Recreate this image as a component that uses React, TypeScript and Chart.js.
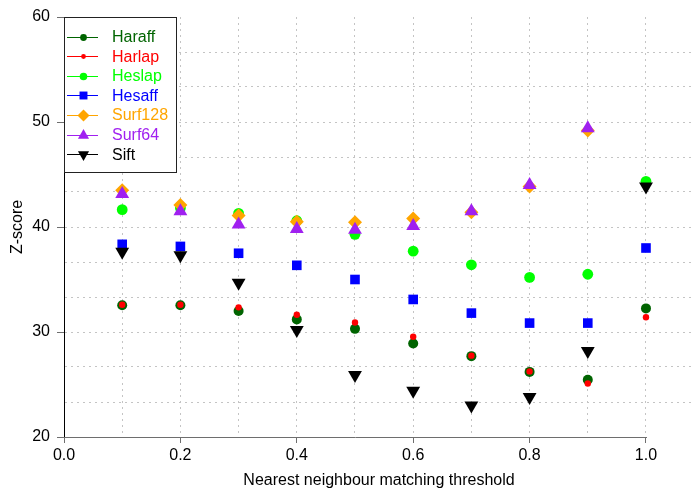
import React, { useEffect, useRef } from "react";
import { Chart, registerables } from "chart.js";

Chart.register(...registerables);

// ---- data ----
const thresholds = [0.1, 0.2, 0.3, 0.4, 0.5, 0.6, 0.7, 0.8, 0.9, 1.0];
const haraff = [32.55, 32.55, 32.0, 31.2, 30.3, 28.9, 27.7, 26.2, 25.45, 32.25];
const harlap = [32.6, 32.6, 32.35, 31.65, 30.9, 29.55, 27.75, 26.25, 25.1, 31.4];
const heslap = [41.65, 41.8, 41.3, 40.6, 39.3, 37.7, 36.4, 35.2, 35.5, 44.35];
const hesaff = [38.35, 38.15, 37.5, 36.35, 35.0, 33.1, 31.8, 30.85, 30.85, 38.0];
const surf128 = [43.5, 42.1, 41.1, 40.5, 40.45, 40.8, 41.4, 43.85, 49.2, null];
const surf64 = [43.15, 41.5, 40.25, 39.8, 39.75, 40.1, 41.5, 44.0, 49.4, null];
const sift = [37.65, 37.3, 34.7, 30.2, 25.9, 24.4, 23.0, 23.8, 28.2, 43.85];

const seriesNames = ["Haraff", "Harlap", "Heslap", "Hesaff", "Surf128", "Surf64", "Sift"];
const seriesValues = [haraff, harlap, heslap, hesaff, surf128, surf64, sift];

const xGridValues = [0, 0.1, 0.2, 0.3, 0.4, 0.5, 0.6, 0.7, 0.8, 0.9, 1.0];
const xTickLabels = [0, 0.2, 0.4, 0.6, 0.8, 1.0];
const yTickLabels = [20, 30, 40, 50, 60];

const xTitle = "Nearest neighbour matching threshold";
const yTitle = "Z-score";

// ---- styles ----
const FONT = "'Liberation Sans', Arial, Helvetica, sans-serif";
const seriesStyles = [
  { color: "#006400", style: "circle", r: 5, lr: 3.4, rot: 0 },
  { color: "#ff0000", style: "circle", r: 3.2, lr: 2.4, rot: 0 },
  { color: "#00ff00", style: "circle", r: 5.4, lr: 3.8, rot: 0 },
  { color: "#0000ff", style: "rect", r: 6.8, lr: 5.6, rot: 0 },
  { color: "#ffa500", style: "rectRot", r: 7, lr: 6, rot: 0 },
  { color: "#a020f0", style: "triangle", r: 8, lr: 6.4, rot: 0 },
  { color: "#000000", style: "triangle", r: 8, lr: 6.4, rot: 180 },
];

function drawMarker(ctx: CanvasRenderingContext2D, style: string, x: number, y: number, r: number, rot: number, color: string) {
  ctx.save();
  ctx.fillStyle = color;
  ctx.beginPath();
  if (style === "circle") {
    ctx.arc(x, y, r, 0, Math.PI * 2);
  } else if (style === "rect") {
    const s = r * Math.SQRT1_2;
    ctx.rect(x - s, y - s, 2 * s, 2 * s);
  } else if (style === "rectRot") {
    ctx.moveTo(x - r, y);
    ctx.lineTo(x, y - r);
    ctx.lineTo(x + r, y);
    ctx.lineTo(x, y + r);
    ctx.closePath();
  } else if (style === "triangle") {
    let rad = (rot * Math.PI) / 180;
    ctx.moveTo(x + Math.sin(rad) * r, y - Math.cos(rad) * r);
    rad += (2 * Math.PI) / 3;
    ctx.lineTo(x + Math.sin(rad) * r, y - Math.cos(rad) * r);
    rad += (2 * Math.PI) / 3;
    ctx.lineTo(x + Math.sin(rad) * r, y - Math.cos(rad) * r);
    ctx.closePath();
  }
  ctx.fill();
  ctx.restore();
}

const overlayPlugin = {
  id: "overlay",
  beforeDatasetsDraw(chart: any) {
    const ctx: CanvasRenderingContext2D = chart.ctx;
    const xs = chart.scales.x;
    const ys = chart.scales.y;
    const y0 = Math.round(ys.getPixelForValue(yTickLabels[0])) + 0.5;
    ctx.save();
    ctx.strokeStyle = "#6e6e6e";
    ctx.lineWidth = 1;
    ctx.beginPath();
    ctx.moveTo(xs.getPixelForValue(xTickLabels[0]), y0);
    ctx.lineTo(Math.round(xs.getPixelForValue(xTickLabels[xTickLabels.length - 1])) + 1, y0);
    ctx.stroke();
    ctx.restore();
  },
  afterDraw(chart: any) {
    const ctx: CanvasRenderingContext2D = chart.ctx;
    const left = chart.chartArea.left;
    const top = chart.chartArea.top;
    ctx.save();
    ctx.fillStyle = "#ffffff";
    ctx.fillRect(left + 0.5, top + 0.5, 112, 155);
    ctx.strokeStyle = "#222";
    ctx.lineWidth = 1;
    ctx.strokeRect(left + 0.5, top + 0.5, 112, 155);
    ctx.font = `16px ${FONT}`;
    ctx.textBaseline = "middle";
    ctx.textAlign = "left";
    seriesNames.forEach((name, i) => {
      const st = seriesStyles[i];
      const cy = top + 19.5 + i * 19.6;
      const ly = Math.round(cy) + 0.5;
      ctx.strokeStyle = st.color;
      ctx.lineWidth = 1;
      ctx.beginPath();
      ctx.moveTo(left + 3, ly);
      ctx.lineTo(left + 34, ly);
      ctx.stroke();
      drawMarker(ctx, st.style, left + 19.5, ly, st.lr, st.rot, st.color);
      ctx.fillStyle = st.color;
      ctx.fillText(name, left + 48, cy + 1);
    });
    ctx.restore();
  },
};

export default function App() {
  const canvasRef = useRef<HTMLCanvasElement | null>(null);

  useEffect(() => {
    if (!canvasRef.current) return;
    const datasets = seriesNames.map((name, i) => {
      const st = seriesStyles[i];
      return {
        label: name,
        data: thresholds
          .map((x, j) => ({ x, y: seriesValues[i][j] }))
          .filter((p) => p.y !== null && p.y !== undefined),
        showLine: false,
        pointStyle: st.style,
        pointRadius: st.r,
        pointHoverRadius: st.r,
        pointRotation: st.rot,
        pointBackgroundColor: st.color,
        pointBorderColor: st.color,
        pointBorderWidth: 0,
        backgroundColor: st.color,
        borderColor: st.color,
        order: seriesNames.length - 1 - i,
      };
    });

    const gridColor = "#c4c4c4";

    const chart = new Chart(canvasRef.current, {
      type: "scatter",
      data: { datasets: datasets as any },
      options: {
        animation: false,
        responsive: false,
        devicePixelRatio: 1,
        layout: { autoPadding: false, padding: { top: 17, right: 0, left: 0, bottom: 0 } },
        plugins: { legend: { display: false }, tooltip: { enabled: false } },
        scales: {
          x: {
            type: "linear",
            min: 0,
            max: 1.0825,
            afterBuildTicks: (s: any) => {
              s.ticks = xGridValues.map((v) => ({ value: v }));
            },
            afterFit: (s: any) => {
              s.height = 53;
              s.paddingLeft = 0;
              s.paddingRight = 0;
            },
            ticks: {
              autoSkip: false,
              maxRotation: 0,
              padding: 3,
              color: "#000",
              font: { family: FONT, size: 16 },
              callback: (value: any) => {
                const v = Number(value);
                return xTickLabels.some((t) => Math.abs(t - v) < 1e-6) ? v.toFixed(1) : "";
              },
            },
            grid: {
              drawTicks: true,
              tickLength: 6,
              lineWidth: 1,
              color: (c: any) => (c.tick && Math.abs(c.tick.value) < 1e-6 ? "rgba(0,0,0,0)" : gridColor),
              tickColor: (c: any) =>
                c.tick && xTickLabels.some((t) => Math.abs(t - c.tick.value) < 1e-6) ? "#6e6e6e" : "rgba(0,0,0,0)",
            },
            border: { display: false, dash: [2, 4] },
            title: {
              display: true,
              text: xTitle,
              color: "#000",
              font: { family: FONT, size: 16 },
              padding: { top: 0, bottom: 0 },
            },
          },
          y: {
            type: "linear",
            min: yTickLabels[0],
            max: yTickLabels[yTickLabels.length - 1],
            afterBuildTicks: (s: any) => {
              const vals: number[] = [];
              for (let i = 0; i < yTickLabels.length - 1; i++) {
                const a = yTickLabels[i];
                const b = yTickLabels[i + 1];
                vals.push(a, a + (b - a) / 3, a + (2 * (b - a)) / 3);
              }
              vals.push(yTickLabels[yTickLabels.length - 1]);
              s.ticks = vals.map((v) => ({ value: v }));
            },
            afterFit: (s: any) => {
              s.width = 64;
              s.paddingTop = 0;
              s.paddingBottom = 0;
            },
            ticks: {
              autoSkip: false,
              padding: 7,
              color: "#000",
              font: { family: FONT, size: 16 },
              callback: (value: any) => {
                const v = Number(value);
                return yTickLabels.some((t) => Math.abs(t - v) < 1e-6) ? String(Math.round(v)) : "";
              },
            },
            grid: {
              drawTicks: true,
              tickLength: 7,
              lineWidth: 1,
              color: (c: any) =>
                c.tick &&
                (Math.abs(c.tick.value - yTickLabels[0]) < 1e-6 ||
                  Math.abs(c.tick.value - yTickLabels[yTickLabels.length - 1]) < 1e-6)
                  ? "rgba(0,0,0,0)"
                  : gridColor,
              tickColor: (c: any) =>
                c.tick && yTickLabels.some((t) => Math.abs(t - c.tick.value) < 1e-6) ? "#6e6e6e" : "rgba(0,0,0,0)",
            },
            border: { display: true, color: "#000", width: 1, dash: [2, 4] },
            title: {
              display: true,
              text: yTitle,
              color: "#000",
              font: { family: FONT, size: 16 },
              padding: { top: 8, bottom: 0 },
            },
          },
        },
      },
      plugins: [overlayPlugin],
    });
    return () => chart.destroy();
  }, []);

  return (
    <div style={{ position: "absolute", left: 0, top: 0, width: 694, height: 490 }}>
      <canvas ref={canvasRef} width={694} height={490} style={{ display: "block" }} />
    </div>
  );
}
